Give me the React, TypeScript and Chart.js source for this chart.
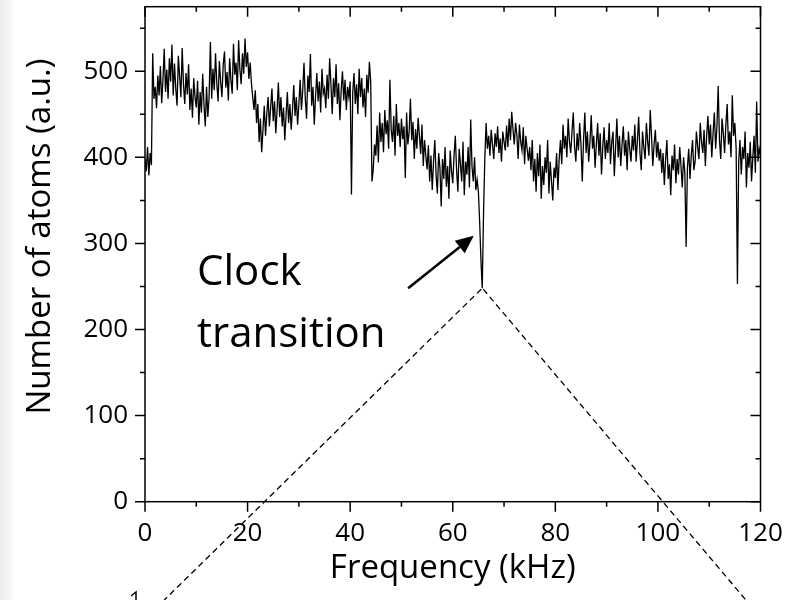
import React, { useEffect, useRef } from "react";
import { Chart, registerables } from "chart.js";
Chart.register(...registerables);

// Frequency grid step (kHz) of the scan
const freqStep = 0.25;

// Number of atoms (a.u.), one value per 0.25 kHz, 0 .. 120 kHz
const atomCounts: number[] = [
  398, 384, 412, 379, 405, 391, 521, 468, 482, 457, 495, 472, 506, 463, 490, 526, 476, 502, 468, 515,
  488, 531, 472, 509, 480, 460, 518, 494, 470, 527, 485, 462, 498, 473, 508, 455, 480, 446, 492, 470,
  458, 489, 438, 476, 452, 497, 461, 436, 482, 447, 470, 534, 468, 503, 478, 521, 486, 465, 512, 488,
  470, 508, 523, 481, 499, 466, 515, 490, 474, 532, 496, 510, 478, 536, 502, 485, 521, 497, 538, 505,
  522, 491, 510, 486, 470, 455, 478, 440, 462, 418, 445, 406, 432, 460, 425, 451, 470, 436, 458, 480,
  442, 465, 428, 455, 487, 447, 470, 436, 458, 420, 449, 476, 440, 462, 432, 455, 484, 448, 470, 438,
  462, 490, 455, 478, 510, 468, 445, 495, 476, 520, 460, 482, 438, 471, 498, 465, 488, 452, 503, 474,
  480, 457, 496, 468, 515, 485, 450, 492, 470, 508, 462, 486, 443, 478, 500, 466, 490, 455, 482, 470,
  488, 357, 475, 498, 462, 485, 450, 503, 470, 492, 458, 480, 447, 496, 475, 511, 488, 372, 386, 415,
  402, 437, 394, 452, 418, 440, 406, 455, 427, 443, 410, 490, 432, 418, 448, 402, 462, 425, 440, 412,
  445, 421, 436, 376, 452, 415, 430, 468, 420, 441, 398, 433, 410, 446, 425, 404, 438, 390, 420, 402,
  386, 414, 372, 402, 362, 395, 420, 380, 358, 405, 388, 343, 398, 375, 412, 366, 390, 352, 408, 384,
  370, 402, 425, 385, 360, 410, 392, 372, 418, 356, 395, 380, 412, 365, 444, 390, 372, 400, 362, 374,
  360, 324, 280, 248, 335, 398, 440, 410, 425, 402, 432, 415, 398, 428, 412, 436, 405, 422, 395, 430,
  418, 408, 437, 412, 445, 420, 453, 432, 415, 440, 426, 398, 438, 418, 408, 435, 392, 425, 410, 396,
  412, 385, 420, 372, 398, 360, 405, 378, 415, 352, 390, 368, 400, 382, 420, 358, 395, 372, 350, 388,
  376, 405, 362, 398, 420, 392, 438, 410, 425, 400, 445, 418, 405, 430, 452, 412, 395, 428, 408, 440,
  415, 372, 420, 452, 405, 430, 395, 418, 449, 410, 425, 388, 415, 440, 402, 428, 380, 412, 435, 398,
  420, 405, 440, 392, 418, 430, 378, 412, 445, 400, 425, 390, 415, 436, 402, 420, 385, 430, 410, 395,
  425, 408, 438, 395, 420, 447, 405, 385, 430, 412, 398, 440, 418, 402, 455, 425, 390, 415, 432, 400,
  418, 396, 410, 382, 405, 368, 398, 420, 375, 392, 356, 402, 385, 415, 370, 398, 380, 412, 390, 365,
  400, 382, 296, 388, 410, 375, 402, 420, 385, 395, 430, 412, 398, 440, 418, 405, 432, 390, 425, 448,
  415, 438, 400, 428, 452, 410, 435, 483, 420, 398, 445, 428, 405, 438, 462, 415, 430, 400, 472, 425,
  440, 410, 253, 395, 420, 380, 412, 398, 430, 365, 405, 388, 418, 372, 400, 425, 382, 465, 395, 410,
  402,
];

const xMajorTicks = [0, 20, 40, 60, 80, 100, 120];
const xMinorTicks = [10, 30, 50, 70, 90, 110];
const yMajorTicks = [0, 100, 200, 300, 400, 500];
const yMinorTicks = [50, 150, 250, 350, 450, 550];

const xTitle = "Frequency (kHz)";
const yTitle = "Number of atoms (a.u.)";
const yTitleCenterValue = 308;
const annotationLines = ["Clock", "transition"];

// annotation anchors in data units
const clockDip = { x: 65.75, y: 248 };
const labelAnchor = { x: 10.15, y1: 252, y2: 180 };
const arrowFrom = { x: 51.3, y: 248 };
const arrowTo = { x: 64.1, y: 309 };

const FONT = '"Open Sans", "Noto Sans", sans-serif';

const framePlugin = {
  id: "originFrame",
  afterDraw(chart: any) {
    const { ctx, chartArea: a, scales } = chart;
    const xs = scales.x;
    const ys = scales.y;
    ctx.save();
    ctx.strokeStyle = "#000";
    ctx.lineWidth = 1.5;
    ctx.strokeRect(a.left, a.top, a.right - a.left, a.bottom - a.top);
    ctx.beginPath();
    const major = 10;
    const minor = 5;
    for (const v of xMajorTicks) {
      const p = xs.getPixelForValue(v);
      ctx.moveTo(p, a.bottom); ctx.lineTo(p, a.bottom + major);
      ctx.moveTo(p, a.top); ctx.lineTo(p, a.top + major);
    }
    for (const v of xMinorTicks) {
      const p = xs.getPixelForValue(v);
      ctx.moveTo(p, a.bottom); ctx.lineTo(p, a.bottom + minor);
      ctx.moveTo(p, a.top); ctx.lineTo(p, a.top + minor);
    }
    for (const v of yMajorTicks) {
      const p = ys.getPixelForValue(v);
      ctx.moveTo(a.left, p); ctx.lineTo(a.left - major, p);
      ctx.moveTo(a.right, p); ctx.lineTo(a.right - major, p);
    }
    for (const v of yMinorTicks) {
      const p = ys.getPixelForValue(v);
      ctx.moveTo(a.left, p); ctx.lineTo(a.left - minor, p);
      ctx.moveTo(a.right, p); ctx.lineTo(a.right - minor, p);
    }
    ctx.stroke();

    ctx.fillStyle = "#000";
    // y axis title
    ctx.save();
    ctx.font = `33px ${FONT}`;
    ctx.textAlign = "center";
    ctx.textBaseline = "middle";
    ctx.translate(41, ys.getPixelForValue(yTitleCenterValue));
    ctx.rotate(-Math.PI / 2);
    ctx.fillText(yTitle, 0, 0);
    ctx.restore();

    // annotation text
    ctx.font = `42px ${FONT}`;
    ctx.textAlign = "left";
    ctx.textBaseline = "alphabetic";
    const lx = xs.getPixelForValue(labelAnchor.x);
    ctx.fillText(annotationLines[0], lx, ys.getPixelForValue(labelAnchor.y1));
    ctx.fillText(annotationLines[1], lx, ys.getPixelForValue(labelAnchor.y2));

    // arrow
    const ax0 = xs.getPixelForValue(arrowFrom.x);
    const ay0 = ys.getPixelForValue(arrowFrom.y);
    const ax1 = xs.getPixelForValue(arrowTo.x);
    const ay1 = ys.getPixelForValue(arrowTo.y);
    const ang = Math.atan2(ay1 - ay0, ax1 - ax0);
    const hl = 18;
    const hw = 8;
    const bx = ax1 - hl * Math.cos(ang);
    const by = ay1 - hl * Math.sin(ang);
    ctx.lineWidth = 2.5;
    ctx.beginPath();
    ctx.moveTo(ax0, ay0);
    ctx.lineTo(bx, by);
    ctx.stroke();
    ctx.beginPath();
    ctx.moveTo(ax1, ay1);
    ctx.lineTo(bx + hw * Math.sin(ang), by - hw * Math.cos(ang));
    ctx.lineTo(bx - hw * Math.sin(ang), by + hw * Math.cos(ang));
    ctx.closePath();
    ctx.fill();

    // dashed zoom lines from the dip down to the page edge
    const px = xs.getPixelForValue(clockDip.x);
    const py = ys.getPixelForValue(clockDip.y) + 1;
    const H = chart.height;
    ctx.lineWidth = 1.3;
    ctx.setLineDash([6, 4]);
    ctx.beginPath();
    ctx.moveTo(px - 1, py);
    ctx.lineTo(px - 1 - 1.02 * (H - py), H);
    ctx.moveTo(px + 1, py);
    ctx.lineTo(px + 1 + 0.845 * (H - py), H);
    ctx.stroke();
    ctx.setLineDash([]);

    // small cut-off mark at the lower left edge
    ctx.lineWidth = 1.5;
    ctx.beginPath();
    ctx.moveTo(136, H);
    ctx.lineTo(136, H - 8);
    ctx.lineTo(131, H - 4);
    ctx.stroke();
    ctx.restore();
  },
};

export default function App() {
  const ref = useRef<HTMLCanvasElement | null>(null);
  useEffect(() => {
    if (!ref.current) return;
    const points = atomCounts.map((v, i) => ({ x: i * freqStep, y: v }));
    const chart = new Chart(ref.current, {
      type: "line",
      data: {
        datasets: [
          {
            data: points,
            borderColor: "#000",
            borderWidth: 1.3,
            pointRadius: 0,
            tension: 0,
            fill: false,
          },
        ],
      },
      options: {
        animation: false,
        responsive: false,
        devicePixelRatio: 1,
        layout: { padding: { top: 6.7, right: 33.5, left: 0, bottom: 0 } },
        plugins: { legend: { display: false }, tooltip: { enabled: false } },
        scales: {
          x: {
            type: "linear",
            min: 0,
            max: 120,
            grid: { display: false, drawTicks: false },
            border: { display: false },
            afterBuildTicks: (s: any) => {
              s.ticks = xMajorTicks.map((v) => ({ value: v }));
            },
            afterFit: (s: any) => {
              s.height = 98.3;
              s.paddingLeft = 0;
              s.paddingRight = 0;
              s.paddingTop = 0;
              s.paddingBottom = 0;
            },
            ticks: {
              color: "#000",
              font: { family: FONT, size: 26 },
              padding: 16,
              maxRotation: 0,
              autoSkip: false,
            },
            title: {
              display: true,
              text: xTitle,
              color: "#000",
              font: { family: FONT, size: 33 },
              padding: { top: 0, bottom: 12 },
            },
          },
          y: {
            type: "linear",
            min: 0,
            max: 575,
            grid: { display: false, drawTicks: false },
            border: { display: false },
            afterBuildTicks: (s: any) => {
              s.ticks = yMajorTicks.map((v) => ({ value: v }));
            },
            afterFit: (s: any) => {
              s.width = 145;
              s.paddingLeft = 0;
              s.paddingRight = 0;
              s.paddingTop = 0;
              s.paddingBottom = 0;
            },
            ticks: {
              color: "#000",
              font: { family: FONT, size: 26 },
              padding: 17,
              autoSkip: false,
            },
            title: { display: false },
          },
        },
      },
      plugins: [framePlugin],
    });
    return () => chart.destroy();
  }, []);

  return (
    <div
      style={{
        position: "absolute",
        left: 0,
        top: 0,
        width: 794,
        height: 600,
        background: "linear-gradient(to right, #ebebeb 0px, #f3f3f3 8px, #ffffff 16px)",
      }}
    >
      <canvas ref={ref} width={794} height={600} style={{ display: "block", width: 794, height: 600 }} />
    </div>
  );
}
